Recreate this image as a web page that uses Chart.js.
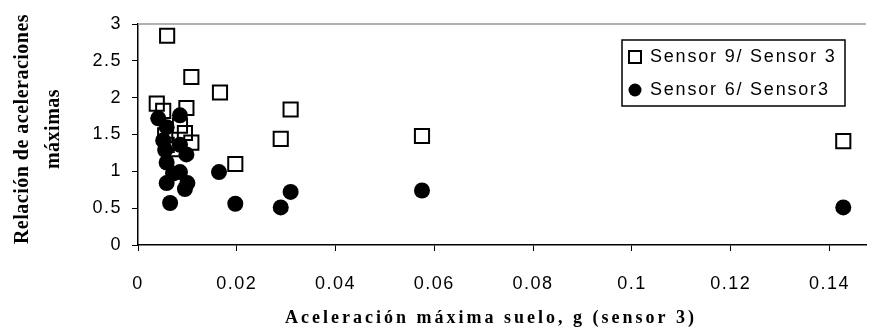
<!DOCTYPE html>
<html>
<head>
<meta charset="utf-8">
<script src="https://cdn.jsdelivr.net/npm/chart.js@4.4.1/dist/chart.umd.min.js"></script>
<style>
  html, body { margin: 0; padding: 0; background: #fff; }
  #wrap { width: 878px; height: 331px; }
</style>
</head>
<body>
<div id="wrap"><canvas id="scatter" width="878" height="331"></canvas></div>
<script>
// Sensor 9 / Sensor 3 (squares)
const sensor9X = [0.0059, 0.0108, 0.0166, 0.0038, 0.0051, 0.0098, 0.0309, 0.0289, 0.0197, 0.0575, 0.1428, 0.0095, 0.0108, 0.0055, 0.0058, 0.0085, 0.0075];
const sensor9Y = [2.84, 2.28, 2.07, 1.92, 1.82, 1.86, 1.84, 1.44, 1.10, 1.48, 1.41, 1.52, 1.39, 1.49, 1.36, 1.62, 1.30];

// Sensor 6 / Sensor 3 (circles)
const sensor6X = [0.0041, 0.0058, 0.0085, 0.0051, 0.0055, 0.0098, 0.0058, 0.0085, 0.0071, 0.0100, 0.0058, 0.0095, 0.0065, 0.0164, 0.0197, 0.0309, 0.0289, 0.0575, 0.1428, 0.0085];
const sensor6Y = [1.72, 1.60, 1.76, 1.42, 1.29, 1.23, 1.12, 0.99, 0.97, 0.84, 0.84, 0.76, 0.57, 0.99, 0.56, 0.72, 0.51, 0.74, 0.51, 1.36];

const seriesLabels = ["Sensor 9/ Sensor 3", "Sensor 6/ Sensor3"];
const xTitle = "Aceleración máxima suelo, g (sensor 3)";
const yTitle = ["Relación de aceleraciones", "máximas"];

const toPoints = (xs, ys) => xs.map((x, i) => ({ x: x, y: ys[i] }));

// titles, legend box and top border drawn by hand
const decorations = {
	id: 'decorations',
	beforeDraw(chart) {
		chart.ctx.letterSpacing = '1.5px';
	},
	afterDraw(chart) {
		const ctx = chart.ctx;
		const area = chart.chartArea;
		ctx.save();

		// top border of plot area
		ctx.strokeStyle = '#999';
		ctx.lineWidth = 1.5;
		ctx.beginPath();
		ctx.moveTo(area.left, area.top);
		ctx.lineTo(area.right, area.top);
		ctx.stroke();

		ctx.fillStyle = '#000';
		ctx.textAlign = 'center';
		ctx.textBaseline = 'middle';

		// x title
		ctx.letterSpacing = '3px';
		ctx.font = 'bold 18px "Liberation Serif"';
		ctx.fillText(xTitle, 491, 318);

		// y title
		ctx.save();
		ctx.letterSpacing = '0.5px';
		ctx.font = 'bold 20px "Liberation Serif"';
		ctx.translate(23, 129);
		ctx.rotate(-Math.PI / 2);
		ctx.fillText(yTitle[0], 0, 0);
		ctx.fillText(yTitle[1], 0, 31);
		ctx.restore();

		// legend
		ctx.strokeStyle = '#000';
		ctx.lineWidth = 1.5;
		ctx.strokeRect(622, 40, 223, 66);
		ctx.lineWidth = 2;
		ctx.strokeRect(629, 51, 12, 12);
		ctx.beginPath();
		ctx.arc(635, 90, 6.5, 0, Math.PI * 2);
		ctx.fill();
		ctx.textAlign = 'left';
		ctx.letterSpacing = '1.8px';
		ctx.font = '18px "Liberation Sans"';
		ctx.fillText(seriesLabels[0], 650, 57);
		ctx.fillText(seriesLabels[1], 650, 90);

		ctx.restore();
		ctx.letterSpacing = '0px';
	}
};

new Chart(
	document.getElementById("scatter"),
	{
		type: 'scatter',
		data: {
			datasets: [{
				label: seriesLabels[0],
				data: toPoints(sensor9X, sensor9Y),
				pointStyle: 'rect',
				pointRadius: 10,
				pointBorderWidth: 2,
				borderColor: '#000',
				backgroundColor: 'rgba(0,0,0,0)'
			}, {
				label: seriesLabels[1],
				data: toPoints(sensor6X, sensor6Y),
				pointStyle: 'circle',
				pointRadius: 8,
				pointBorderWidth: 0,
				borderColor: '#000',
				backgroundColor: '#000'
			}]
		},
		options: {
			responsive: false,
			maintainAspectRatio: false,
			animation: false,
			layout: { padding: { top: 24, right: 0, left: 0, bottom: 0 } },
			plugins: {
				legend: { display: false },
				tooltip: { enabled: false }
			},
			elements: { point: { hoverRadius: 0 } },
			scales: {
				x: {
					type: 'linear',
					min: 0,
					max: 0.1474,
					afterFit: s => { s.height = 86; },
					border: { color: '#000', width: 1.5 },
					grid: { drawOnChartArea: false, drawTicks: true, tickLength: 6, color: '#000' },
					ticks: {
						stepSize: 0.02,
						includeBounds: false,
						padding: 22,
						color: '#000',
						maxRotation: 0,
						font: { family: 'Liberation Sans', size: 18 },
						callback: v => String(+v.toFixed(2))
					}
				},
				y: {
					min: 0,
					max: 3,
					afterFit: s => { s.width = 138; },
					border: { color: '#000', width: 1.5 },
					grid: { drawOnChartArea: false, drawTicks: true, tickLength: 6, color: '#000' },
					ticks: {
						stepSize: 0.5,
						padding: 10,
						color: '#000',
						font: { family: 'Liberation Sans', size: 18 },
						callback: v => String(+v.toFixed(1))
					}
				}
			}
		},
		plugins: [decorations]
	}
);
</script>
</body>
</html>
